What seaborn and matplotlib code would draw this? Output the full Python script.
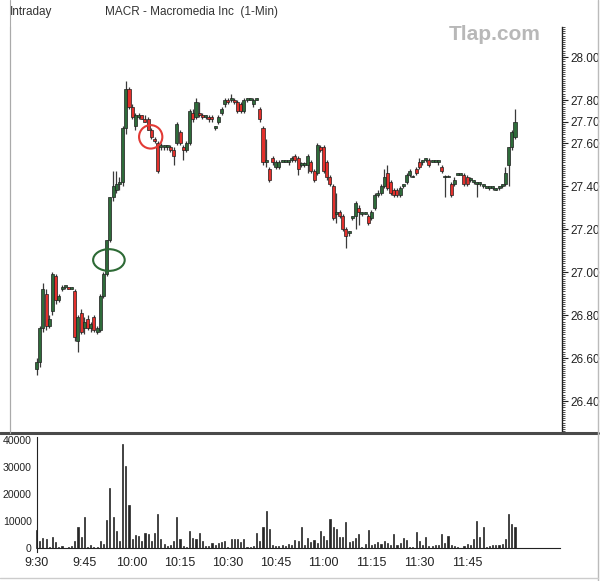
import matplotlib
matplotlib.use('Agg')
import matplotlib.pyplot as plt
import seaborn as sns
import numpy as np
from matplotlib.patches import Ellipse
from matplotlib.lines import Line2D
from matplotlib.ticker import MultipleLocator, FixedLocator

# ---------------- data (1-minute bars from 9:30) ----------------
opens = [26.55, 26.58, 26.74, 26.90, 26.75, 26.82, 26.98, 26.87, 26.92, 26.93,
         26.93, 26.92, 26.91, 26.68, 26.81, 26.74, 26.78, 26.74, 26.79, 26.72,
         26.73, 26.89, 26.99, 27.15, 27.35, 27.38, 27.41, 27.42, 27.67, 27.85,
         27.77, 27.68, 27.72, 27.73, 27.71, 27.71, 27.66, 27.62, 27.60, 27.58,
         27.58, 27.58, 27.58, 27.57, 27.60, 27.65, 27.58, 27.57, 27.60, 27.74,
         27.72, 27.74, 27.73, 27.72, 27.72, 27.72, 27.67, 27.70, 27.74, 27.78,
         27.80, 27.80, 27.80, 27.79, 27.78, 27.75, 27.80, 27.80, 27.78, 27.80,
         27.76, 27.67, 27.51, 27.48, 27.53, 27.49, 27.49, 27.51, 27.51, 27.51,
         27.52, 27.54, 27.53, 27.50, 27.50, 27.50, 27.51, 27.47, 27.46, 27.58,
         27.58, 27.51, 27.44, 27.40, 27.27, 27.28, 27.26, 27.20, 27.18, 27.25,
         27.26, 27.30, 27.27, 27.27, 27.26, 27.25, 27.30, 27.36, 27.37, 27.40,
         27.46, 27.42, 27.38, 27.38, 27.36, 27.40, 27.42, 27.45, 27.44, 27.48,
         27.51, 27.51, 27.52, 27.52, 27.51, 27.51, 27.51, 27.49, 27.44, 27.44,
         27.41, 27.41, 27.45, 27.45, 27.45, 27.44, 27.43, 27.42, 27.41, 27.41,
         27.40, 27.39, 27.39, 27.39, 27.38, 27.39, 27.40, 27.41, 27.50, 27.58,
         27.63]
highs = [26.60, 26.75, 26.95, 26.92, 26.80, 27.00, 26.99, 26.90, 26.94, 26.93,
         26.93, 26.93, 26.92, 26.80, 26.83, 26.79, 26.80, 26.77, 26.80, 26.75,
         26.90, 27.00, 27.15, 27.35, 27.47, 27.47, 27.44, 27.68, 27.89, 27.86,
         27.78, 27.74, 27.74, 27.73, 27.73, 27.72, 27.67, 27.63, 27.61, 27.60,
         27.59, 27.59, 27.59, 27.58, 27.70, 27.66, 27.59, 27.61, 27.76, 27.76,
         27.81, 27.79, 27.74, 27.73, 27.73, 27.73, 27.68, 27.73, 27.77, 27.81,
         27.81, 27.83, 27.81, 27.80, 27.79, 27.81, 27.81, 27.81, 27.81, 27.81,
         27.77, 27.68, 27.62, 27.49, 27.54, 27.52, 27.52, 27.52, 27.52, 27.52,
         27.54, 27.55, 27.54, 27.51, 27.51, 27.55, 27.52, 27.48, 27.60, 27.59,
         27.59, 27.52, 27.45, 27.41, 27.37, 27.29, 27.27, 27.21, 27.19, 27.26,
         27.33, 27.31, 27.28, 27.28, 27.27, 27.29, 27.37, 27.38, 27.41, 27.48,
         27.50, 27.43, 27.39, 27.39, 27.40, 27.41, 27.46, 27.48, 27.45, 27.49,
         27.53, 27.52, 27.53, 27.53, 27.52, 27.52, 27.52, 27.50, 27.45, 27.45,
         27.42, 27.44, 27.46, 27.46, 27.46, 27.45, 27.44, 27.43, 27.42, 27.42,
         27.41, 27.40, 27.40, 27.40, 27.39, 27.40, 27.41, 27.49, 27.58, 27.66,
         27.76]
lows = [26.52, 26.56, 26.72, 26.73, 26.74, 26.80, 26.85, 26.86, 26.91, 26.92,
        26.92, 26.92, 26.68, 26.63, 26.71, 26.71, 26.73, 26.72, 26.72, 26.71,
        26.72, 26.88, 26.98, 27.14, 27.33, 27.37, 27.38, 27.40, 27.64, 27.76,
        27.71, 27.66, 27.71, 27.71, 27.70, 27.66, 27.62, 27.60, 27.46, 27.57,
        27.57, 27.57, 27.56, 27.50, 27.59, 27.59, 27.52, 27.56, 27.59, 27.70,
        27.71, 27.72, 27.71, 27.71, 27.70, 27.70, 27.66, 27.69, 27.73, 27.77,
        27.78, 27.79, 27.78, 27.74, 27.74, 27.74, 27.79, 27.80, 27.77, 27.80,
        27.70, 27.50, 27.49, 27.42, 27.50, 27.48, 27.48, 27.51, 27.51, 27.50,
        27.51, 27.51, 27.45, 27.49, 27.49, 27.46, 27.46, 27.42, 27.45, 27.56,
        27.46, 27.43, 27.40, 27.24, 27.23, 27.25, 27.19, 27.11, 27.17, 27.24,
        27.20, 27.22, 27.26, 27.27, 27.22, 27.24, 27.29, 27.35, 27.36, 27.39,
        27.38, 27.36, 27.35, 27.35, 27.35, 27.39, 27.41, 27.44, 27.44, 27.45,
        27.48, 27.50, 27.51, 27.49, 27.51, 27.51, 27.50, 27.46, 27.35, 27.44,
        27.35, 27.40, 27.45, 27.45, 27.40, 27.40, 27.42, 27.41, 27.35, 27.40,
        27.39, 27.39, 27.38, 27.38, 27.38, 27.38, 27.39, 27.40, 27.40, 27.57,
        27.62]
closes = [26.58, 26.74, 26.92, 26.75, 26.78, 26.99, 26.87, 26.89, 26.93, 26.93,
          26.92, 26.92, 26.70, 26.79, 26.72, 26.77, 26.74, 26.76, 26.73, 26.74,
          26.89, 26.99, 27.15, 27.35, 27.40, 27.41, 27.42, 27.67, 27.85, 27.77,
          27.72, 27.73, 27.73, 27.71, 27.70, 27.66, 27.63, 27.61, 27.47, 27.59,
          27.58, 27.58, 27.57, 27.54, 27.69, 27.60, 27.57, 27.60, 27.75, 27.71,
          27.79, 27.73, 27.72, 27.72, 27.71, 27.71, 27.67, 27.72, 27.76, 27.80,
          27.79, 27.80, 27.79, 27.75, 27.75, 27.80, 27.80, 27.80, 27.80, 27.80,
          27.71, 27.51, 27.51, 27.43, 27.51, 27.51, 27.51, 27.51, 27.51, 27.51,
          27.53, 27.52, 27.48, 27.50, 27.50, 27.54, 27.47, 27.43, 27.59, 27.57,
          27.47, 27.44, 27.41, 27.25, 27.27, 27.26, 27.20, 27.17, 27.18, 27.25,
          27.32, 27.28, 27.27, 27.27, 27.23, 27.28, 27.36, 27.37, 27.40, 27.44,
          27.39, 27.37, 27.36, 27.36, 27.39, 27.40, 27.45, 27.47, 27.44, 27.46,
          27.49, 27.51, 27.52, 27.50, 27.51, 27.51, 27.51, 27.47, 27.44, 27.44,
          27.36, 27.43, 27.45, 27.45, 27.41, 27.41, 27.43, 27.42, 27.41, 27.41,
          27.40, 27.39, 27.39, 27.39, 27.38, 27.39, 27.40, 27.46, 27.58, 27.65,
          27.70]
volume = [6500, 2700, 3700, 3300, 500, 4000, 2100, 300, 800, 100,
          500, 900, 2500, 7700, 4000, 11400, 200, 1100, 500, 500,
          2500, 1500, 10400, 22300, 11400, 6200, 2500, 38700, 30300, 16100,
          3300, 4800, 4500, 2500, 5500, 5200, 2500, 5500, 12600, 3200,
          1500, 800, 1200, 2500, 11400, 3200, 800, 300, 6200, 3700,
          3300, 5500, 2700, 800, 800, 1700, 1200, 1700, 2200, 2500,
          200, 3200, 3200, 3200, 2200, 3500, 200, 300, 800, 5500,
          2500, 7700, 13600, 6900, 1200, 900, 900, 1200, 800, 1600,
          1000, 3100, 2500, 7800, 1200, 3700, 2100, 2900, 1900, 6200,
          4300, 3100, 10800, 7800, 7100, 4100, 4100, 9500, 2400, 2600,
          3800, 5200, 400, 1400, 6600, 1200, 1600, 2100, 1600, 2700,
          1900, 1200, 5100, 1100, 1900, 3600, 2900, 200, 200, 5800,
          2500, 1200, 4100, 600, 600, 1200, 1000, 5300, 1900, 4300,
          1000, 900, 400, 100, 600, 1600, 1200, 3300, 10000, 4000,
          7900, 200, 900, 1100, 1100, 1100, 1500, 3300, 12600, 9000,
          7900]
time_labels = ['9:30', '9:45', '10:00', '10:15', '10:30', '10:45',
               '11:00', '11:15', '11:30', '11:45']
price_ticks = [26.40, 26.60, 26.80, 27.00, 27.20, 27.40, 27.60, 27.70, 27.80, 28.00]
volume_ticks = [0, 10000, 20000, 30000, 40000]

# ---------------- figure ----------------
sns.set_style('white')
plt.rcParams['font.family'] = ['Liberation Sans', 'DejaVu Sans']

W, H = 601, 581
fig = plt.figure(figsize=(W / 100, H / 100), dpi=100)
fig.patch.set_facecolor('white')

def fb(x0, y0, x1, y1):
    return [x0 / W, 1 - y1 / H, (x1 - x0) / W, (y1 - y0) / H]

PX0, PXM = 36.5, 3.19   # pixel of 9:30, pixels per minute
xl = (10 - PX0) / PXM
xr = (562 - PX0) / PXM

minutes = np.arange(len(opens))
o = np.array(opens); h = np.array(highs); l = np.array(lows); c = np.array(closes)

# price panel
ax = fig.add_axes(fb(10, 27, 562, 432))
ax.set_facecolor('none')
ax.vlines(minutes, l, h, color='#3a3a3a', lw=0.9, zorder=2)
body_bottom = np.minimum(o, c)
body_h = np.maximum(np.abs(c - o), 0.009)
colors = np.where(c >= o, '#2e6b3a', '#e3302c')
ax.bar(minutes, body_h, bottom=body_bottom, width=0.95, color=colors,
       edgecolor='#1f1f1f', linewidth=0.5, zorder=3)
ax.add_patch(Ellipse((22.7, 27.056), width=9.9, height=0.101, fill=False,
                     edgecolor='#2d6a35', lw=1.5, zorder=4))
ax.add_patch(Ellipse((35.8, 27.629), width=7.3, height=0.109, fill=False,
                     edgecolor='#e23a35', lw=1.5, zorder=4))
ax.set_xlim(xl, xr)
ax.set_ylim(26.256, 28.14)
for s in ['top', 'bottom']:
    ax.spines[s].set_visible(False)
ax.spines['left'].set_color('#aaaaaa')
ax.spines['left'].set_linewidth(0.8)
ax.spines['right'].set_color('#222222')
ax.spines['right'].set_linewidth(1.0)
ax.set_xticks([])
ax.yaxis.tick_right()
ax.yaxis.set_major_locator(FixedLocator(price_ticks))
ax.yaxis.set_minor_locator(MultipleLocator(0.01))
ax.set_yticklabels([f'{v:.2f}' for v in price_ticks])
ax.tick_params(axis='y', which='major', direction='out', length=4, width=0.8,
               labelsize=8.5, pad=2, colors='#222222', right=True, left=False)
ax.tick_params(axis='y', which='minor', direction='out', length=2, width=0.6,
               colors='#333333', right=True, left=False)

# volume panel
vax = fig.add_axes(fb(10, 437, 560, 552))
vax.set_facecolor('none')
sns.histplot(x=minutes, weights=volume, discrete=True, shrink=0.35, ax=vax,
             color='#262626', edgecolor='#262626', linewidth=0.5, alpha=1)
vax.set_xlim(xl, (560 - PX0) / PXM)
vax.set_ylim(-1481, 41110)
vax.set_xlabel('')
vax.set_ylabel('')
vax.spines['top'].set_visible(False)
vax.spines['right'].set_visible(False)
vax.spines['left'].set_position(('data', 0))
vax.spines['bottom'].set_position(('data', 0))
vax.spines['bottom'].set_bounds(0, (560 - PX0) / PXM)
vax.spines['left'].set_color('#222222')
vax.spines['bottom'].set_color('#222222')
vax.xaxis.set_major_locator(FixedLocator(list(range(0, 15 * len(time_labels), 15))))
vax.set_xticklabels(time_labels)
vax.xaxis.set_minor_locator(MultipleLocator(1))
vax.yaxis.set_major_locator(FixedLocator(volume_ticks))
vax.set_yticklabels([str(v) for v in volume_ticks])
vax.yaxis.set_minor_locator(MultipleLocator(1000))
vax.tick_params(axis='x', which='major', direction='inout', length=7, width=0.8,
                labelsize=9, pad=3, colors='#222222')
vax.tick_params(axis='x', which='minor', direction='out', length=3, width=0.5,
                colors='#333333')
vax.tick_params(axis='y', which='major', direction='out', length=3, width=0.8,
                labelsize=8, pad=0.5, colors='#222222')
vax.tick_params(axis='y', which='minor', direction='out', length=1.5, width=0.5,
                colors='#333333')
for t in vax.get_yticklabels():
    t.set_fontstretch('condensed')
    t.set_fontsize(7.6)

# frame lines
def fline(x0, y0, x1, y1, **kw):
    fig.add_artist(Line2D([x0 / W, x1 / W], [1 - y0 / H, 1 - y1 / H], **kw))

fline(0, 433, 598, 433, color='#4a4a4a', lw=2.2)
fline(10, 0, 10, 433, color='#aaaaaa', lw=0.8)
fline(598, 0, 598, 581, color='#bbbbbb', lw=1.0)
fline(0, 578, 598, 578, color='#cccccc', lw=1.0)

# texts
fig.text(10 / W, 1 - 12 / H, 'Intraday', fontsize=8.5, color='#333333',
         ha='left', va='center')
fig.text(105 / W, 1 - 12 / H, 'MACR - Macromedia Inc  (1-Min)', fontsize=8.5,
         color='#333333', ha='left', va='center')
fig.text(495 / W, 1 - 35 / H, 'Tlap.com', fontsize=15, fontweight='bold',
         color='#b8b8b8', ha='center', va='center')

fig.savefig('out.png', dpi=100, facecolor='white')
